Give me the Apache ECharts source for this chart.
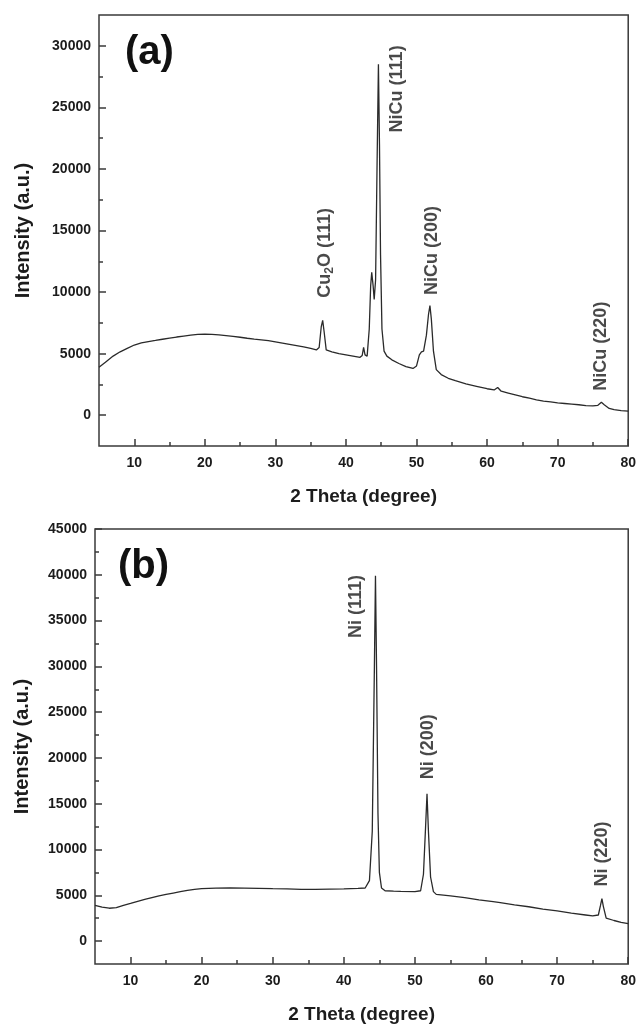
<!DOCTYPE html>
<html>
<head>
<meta charset="utf-8">
<script src="https://cdn.jsdelivr.net/npm/echarts@6/dist/echarts.min.js"></script>
<style>
  html, body { margin: 0; padding: 0; background: #fff; }
  #chart { width: 639px; height: 1027px; }
</style>
</head>
<body>
<div id="chart"></div>
<script>
// panel (a): NiCu sample
const thetaA = [5, 6, 7, 8, 9, 10, 11, 12, 13, 14, 15, 16, 17, 18, 19, 20, 21, 22, 23, 24, 25,
  26, 27, 28, 29, 30, 31, 32, 33, 34, 35, 35.8, 36.2, 36.5, 36.7, 36.9, 37.2, 38, 39, 40, 41, 42,
  42.3, 42.5, 42.7, 43.0, 43.3, 43.5, 43.65, 43.85, 44.0, 44.2, 44.4, 44.6, 44.75, 44.9, 45.1,
  45.4, 45.8, 46.5, 47.5, 48.5, 49.5, 50.0, 50.4, 50.7, 51.0, 51.4, 51.7, 51.9, 52.1, 52.4, 52.8,
  53.5, 54.5, 55.5, 57, 58.5, 60, 61, 61.5, 62, 63, 64, 65, 66, 67, 68, 69, 70, 71, 72, 73, 74,
  75, 75.7, 76.2, 76.6, 77.3, 78, 79, 80];
const intensityA = [3900, 4350, 4800, 5150, 5430, 5700, 5870, 5980, 6070, 6170, 6260, 6350, 6430,
  6500, 6560, 6580, 6570, 6530, 6470, 6400, 6330, 6250, 6180, 6120, 6050, 5950, 5850, 5750, 5650,
  5550, 5420, 5300, 5500, 7200, 7700, 6800, 5300, 5150, 5000, 4900, 4800, 4700, 4850, 5500, 4900,
  4800, 7000, 10500, 11600, 10500, 9400, 11000, 20000, 28500, 22000, 13000, 7000, 5200, 4800, 4500,
  4200, 3950, 3800, 4000, 4900, 5150, 5200, 6500, 8200, 8900, 7800, 5200, 3700, 3300, 3000, 2800,
  2550, 2350, 2150, 2050, 2250, 1950, 1800, 1650, 1500, 1380, 1250, 1150, 1080, 1000, 950, 900,
  850, 780, 760, 800, 1050, 850, 550, 450, 380, 330];

// panel (b): Ni sample
const thetaB = [5, 6, 7, 8, 9, 10, 11, 12, 13, 14, 15, 16, 17, 18, 19, 20, 22, 24, 26, 28, 30, 32,
  34, 36, 38, 40, 42, 43, 43.6, 44.0, 44.3, 44.45, 44.6, 44.8, 45.0, 45.3, 45.8, 47, 48, 50, 50.8,
  51.2, 51.5, 51.7, 51.9, 52.2, 52.6, 53, 55, 57, 59, 61, 62, 64, 66, 68, 70, 72, 74, 75, 75.8,
  76.1, 76.3, 76.5, 76.9, 78, 79, 80];
const intensityB = [3890, 3700, 3590, 3650, 3900, 4120, 4350, 4550, 4750, 4950, 5100, 5250, 5400,
  5550, 5650, 5720, 5780, 5800, 5780, 5750, 5720, 5700, 5650, 5650, 5680, 5700, 5750, 5800, 6600,
  12000, 30000, 39900, 30000, 14000, 7500, 5800, 5500, 5450, 5420, 5400, 5500, 7300, 12500, 16100,
  12000, 7000, 5400, 5100, 4950, 4750, 4500, 4300, 4200, 3950, 3750, 3500, 3300, 3050, 2850, 2750,
  2850, 3900, 4650, 3800, 2500, 2250, 2050, 1900];

const xMajor = [10, 20, 30, 40, 50, 60, 70, 80];
const xMinor = [15, 25, 35, 45, 55, 65, 75];
const yMajorA = [0, 5000, 10000, 15000, 20000, 25000, 30000];
const yMinorA = [2500, 7500, 12500, 17500, 22500, 27500];
const yMajorB = [0, 5000, 10000, 15000, 20000, 25000, 30000, 35000, 40000, 45000];
const yMinorB = [2500, 7500, 12500, 17500, 22500, 27500, 32500, 37500, 42500];

// peak annotations [theta, intensity, text]
const peaksA = [
  [37.0, 13180, '{n|Cu}{s|2}{n|O (111)}'],
  [47.2, 26500, '{n|NiCu (111)}'],
  [52.2, 13380, '{n|NiCu (200)}'],
  [76.2, 5610, '{n|NiCu (220)}']
];
const peaksB = [
  [41.7, 36540, '{n|Ni (111)}'],
  [51.8, 21230, '{n|Ni (200)}'],
  [76.3, 9500, '{n|Ni (220)}']
];

const FONT = '"Liberation Sans", Arial, sans-serif';
const INK = '#1c1c1c';
const FRAME = '#3a3a3a';

function zip(xs, ys) {
  return xs.map((x, i) => [x, ys[i]]);
}

function plain(v) {
  return String(v);
}

function xAxes(gridIndex) {
  return [
    {
      type: 'value', gridIndex: gridIndex, position: 'bottom', min: 5, max: 80, interval: 5,
      name: '2 Theta (degree)', nameLocation: 'middle', nameGap: 41,
      nameTextStyle: { fontFamily: FONT, fontWeight: 'bold', fontSize: 19, color: INK },
      axisLine: { show: false, onZero: false },
      axisTick: { inside: true, length: 7, customValues: xMajor, lineStyle: { color: FRAME, width: 1.5 } },
      axisLabel: { customValues: xMajor, formatter: plain, margin: 10, fontFamily: FONT, fontWeight: 'bold', fontSize: 14, color: INK },
      splitLine: { show: false }
    },
    {
      type: 'value', gridIndex: gridIndex, position: 'bottom', min: 5, max: 80, interval: 5,
      axisLine: { show: false, onZero: false },
      axisTick: { inside: true, length: 4, customValues: xMinor, lineStyle: { color: FRAME, width: 1.5 } },
      axisLabel: { show: false },
      splitLine: { show: false }
    }
  ];
}

function yAxes(gridIndex, max, major, minor, gap) {
  return [
    {
      type: 'value', gridIndex: gridIndex, position: 'left', min: -2500, max: max, interval: 2500,
      name: 'Intensity (a.u.)', nameLocation: 'middle', nameGap: gap,
      nameTextStyle: { fontFamily: FONT, fontWeight: 'bold', fontSize: 20, color: INK },
      axisLine: { show: false, onZero: false },
      axisTick: { inside: true, length: 7, customValues: major, lineStyle: { color: FRAME, width: 1.5 } },
      axisLabel: { customValues: major, formatter: plain, margin: 8, fontFamily: FONT, fontWeight: 'bold', fontSize: 14, color: INK },
      splitLine: { show: false }
    },
    {
      type: 'value', gridIndex: gridIndex, position: 'left', min: -2500, max: max, interval: 2500,
      axisLine: { show: false, onZero: false },
      axisTick: { inside: true, length: 4, customValues: minor, lineStyle: { color: FRAME, width: 1.5 } },
      axisLabel: { show: false },
      splitLine: { show: false }
    }
  ];
}

function curve(xIdx, yIdx, data) {
  return {
    type: 'line', xAxisIndex: xIdx, yAxisIndex: yIdx, data: data,
    showSymbol: false, symbol: 'none', silent: true,
    lineStyle: { color: '#2a2a2a', width: 1.3 }
  };
}

function peakLabels(xIdx, yIdx, peaks) {
  return {
    type: 'scatter', xAxisIndex: xIdx, yAxisIndex: yIdx, symbolSize: 0, silent: true,
    data: peaks.map(p => ({ value: [p[0], p[1]], text: p[2] })),
    label: {
      show: true, position: 'inside', rotate: 90,
      formatter: params => params.data.text,
      rich: {
        n: { fontFamily: FONT, fontWeight: 'bold', fontSize: 18, color: INK, lineHeight: 22 },
        s: { fontFamily: FONT, fontWeight: 'bold', fontSize: 12, color: INK, lineHeight: 12, verticalAlign: 'bottom' }
      }
    }
  };
}

const chart = echarts.init(document.getElementById('chart'));
chart.setOption({
  animation: false,
  backgroundColor: '#fff',
  grid: [
    { left: 99, top: 15, width: 531, height: 431, show: true, borderColor: FRAME, borderWidth: 1.5 },
    { left: 95, top: 529, width: 535, height: 435, show: true, borderColor: FRAME, borderWidth: 1.5 }
  ],
  xAxis: xAxes(0).concat(xAxes(1)),
  yAxis: yAxes(0, 32500, yMajorA, yMinorA, 66).concat(yAxes(1, 45000, yMajorB, yMinorB, 63)),
  graphic: [
    { type: 'text', left: 125, top: 33, style: { text: '(a)', font: 'bold 40px ' + FONT, fill: '#111' } },
    { type: 'text', left: 118, top: 547, style: { text: '(b)', font: 'bold 40px ' + FONT, fill: '#111' } }
  ],
  series: [
    curve(0, 0, zip(thetaA, intensityA)),
    peakLabels(0, 0, peaksA),
    curve(2, 2, zip(thetaB, intensityB)),
    peakLabels(2, 2, peaksB)
  ]
});
</script>
</body>
</html>
